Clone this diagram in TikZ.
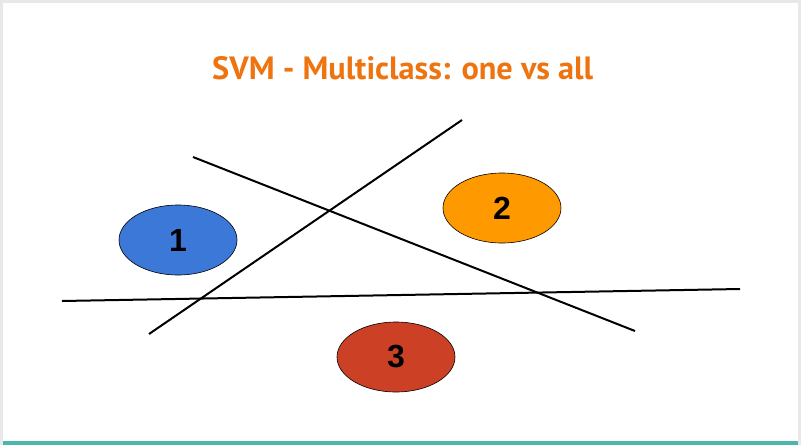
\documentclass[tikz,border=0pt]{standalone}
\usepackage{fontspec}
\usetikzlibrary{shapes.geometric}
\setmainfont{Liberation Sans}
\newfontfamily\titlefont{PT Sans}
\definecolor{titleor}{HTML}{EE7410}
\definecolor{blueone}{HTML}{3C78D8}
\definecolor{orangetwo}{HTML}{FF9900}
\definecolor{redthree}{HTML}{CC4125}
\definecolor{teal}{HTML}{4DB6AC}
\definecolor{framegray}{HTML}{E8E8E8}
\begin{document}
\begin{tikzpicture}[x=1pt,y=-1pt,
  cls/.style={ellipse,draw=black,line width=0.6pt,minimum width=118pt,minimum height=70pt,inner sep=0pt,font=\fontsize{32}{32}\selectfont\bfseries},
  sep/.style={line width=2pt,black}]
\useasboundingbox (0,0) rectangle (801,445);
\fill[framegray] (0,0) rectangle (801,445);
\fill[white] (3,3) rectangle (798,441);
\fill[teal] (3,441) rectangle (798,445);
\node[font=\titlefont\bfseries, text=titleor, inner sep=0pt, anchor=base west] (title) at (212,79) {\resizebox{381pt}{23pt}{\fontsize{31}{31}\selectfont SVM - Multiclass: one vs all}};
\coordinate (a1) at (193,157); \coordinate (a2) at (635,331);
\coordinate (b1) at (149,334); \coordinate (b2) at (462,120);
\coordinate (c1) at (62,301); \coordinate (c2) at (740,289);
\draw[sep] (a1) -- (a2);
\draw[sep] (b1) -- (b2);
\draw[sep] (c1) -- (c2);
\node[cls,fill=blueone] (one) at (178,240) {1};
\node[cls,fill=orangetwo] (two) at (502,208) {2};
\node[cls,fill=redthree] (three) at (396,357) {3};
\end{tikzpicture}
\end{document}
